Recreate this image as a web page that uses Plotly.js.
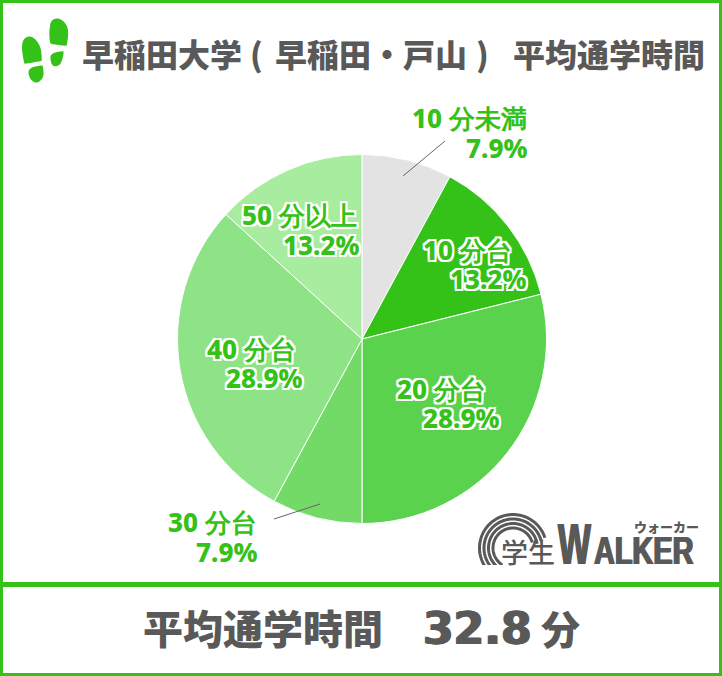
<!DOCTYPE html>
<html>
<head>
<meta charset="utf-8">
<script src="https://cdn.plot.ly/plotly-3.0.1.min.js"></script>
<style>html,body{margin:0;padding:0;background:#fff}</style>
</head>
<body>
<div id="chart" style="width:722px;height:676px"></div>
<script>
var W = 722, H = 676;
var sliceLabels = ['10 分未満', '10 分台', '20 分台', '30 分台', '40 分台', '50 分以上'];
var sliceValues = [7.9, 13.2, 28.9, 7.9, 28.9, 13.2];
var sliceColors = ['#e3e3e3', '#34c118', '#5ad24e', '#73da68', '#8de385', '#a8eca0'];
// right edge and centre of each label line, in pixels
var nameX = [528, 513, 487, 258, 297, 358];
var nameY = [118, 250, 389, 522, 349, 215];
var pctX = [528, 528, 501, 258, 304, 361];
var pctY = [148, 279, 418, 552, 378, 245];
var labelOutlined = [false, true, true, false, true, true];

var GREEN = '#34c118', GREY = '#595959';
var CJK = '"Noto Sans CJK JP", sans-serif';
var LATIN = '"Noto Sans", sans-serif';

function px(x) { return x / W; }
function py(y) { return 1 - y / H; }

function textAt(text, x, y, size, opts) {
    opts = opts || {};
    return {
        text: text, x: px(x), y: py(y), xref: 'paper', yref: 'paper', showarrow: false,
        xanchor: opts.anchor || 'left', yanchor: 'middle', align: opts.anchor || 'left',
        borderpad: 0,
        font: {family: opts.family || CJK, size: size, color: opts.color || GREY,
            weight: opts.weight || 900, shadow: opts.shadow || 'none'}
    };
}

var outline = '2px 0 0 #fff,-2px 0 0 #fff,0 2px 0 #fff,0 -2px 0 #fff,2px 2px 0 #fff,-2px 2px 0 #fff,2px -2px 0 #fff,-2px -2px 0 #fff';
var fatten = '1px 0 0 ' + GREY + ',-1px 0 0 ' + GREY;

var annotations = [
    textAt('早稲田大学', 81, 53, 32),
    textAt('(', 249, 53, 32),
    textAt('早稲田', 274, 53, 32),
    textAt('・', 370, 53, 32),
    textAt('戸山', 402, 53, 32),
    textAt(')', 475, 53, 32),
    textAt('平均通学時間', 512, 53, 32),
    textAt('平均通学時間', 142, 627, 40),
    textAt('32.8', 422, 628, 44, {family: '"DejaVu Sans", sans-serif', weight: 'bold', shadow: fatten}),
    textAt('分', 540, 627, 39),
    textAt('学生', 500, 551, 27, {weight: 500}),
    textAt('W', 557, 543, 58, {family: '"Liberation Sans", sans-serif', weight: 'bold', shadow: fatten}),
    textAt('ALKER', 593, 551, 38, {family: '"Liberation Sans", sans-serif', weight: 'bold', shadow: fatten}),
    textAt('ウォーカー', 633, 526, 13)
];

sliceLabels.forEach(function (label, i) {
    var shadow = labelOutlined[i] ? outline : 'none';
    annotations.push(textAt(label, nameX[i], nameY[i], 26, {anchor: 'right', family: LATIN, color: GREEN, weight: 800, shadow: shadow}));
    annotations.push(textAt(sliceValues[i].toFixed(1) + '%', pctX[i], pctY[i], 26, {anchor: 'right', family: LATIN, color: GREEN, weight: 800, shadow: shadow}));
});

function rect(x0, y0, x1, y1, fill) {
    return {type: 'rect', xref: 'paper', yref: 'paper', x0: px(x0), y0: py(y0), x1: px(x1), y1: py(y1),
        fillcolor: fill, line: {width: 0}, layer: 'above'};
}
function leader(x0, y0, x1, y1) {
    return {type: 'line', xref: 'paper', yref: 'paper', x0: px(x0), y0: py(y0), x1: px(x1), y1: py(y1),
        line: {color: '#666666', width: 1}, layer: 'above'};
}
function blob(points, color) {
    // closed smooth shape, the points are curve controls in pixels
    var n = points.length;
    function mid(a, b) { return px((a[0] + b[0]) / 2) + ',' + py((a[1] + b[1]) / 2); }
    var d = 'M' + mid(points[n - 1], points[0]);
    points.forEach(function (p, i) {
        d += ' Q' + px(p[0]) + ',' + py(p[1]) + ' ' + mid(p, points[(i + 1) % n]);
    });
    return {type: 'path', xref: 'paper', yref: 'paper', path: d + ' Z', fillcolor: color, line: {width: 0}, layer: 'above'};
}
function arc(cx, cy, r, from, to, width) {
    var pts = [];
    for (var a = from; a <= to; a += 3) {
        var t = a * Math.PI / 180;
        pts.push([cx + r * Math.cos(t), cy - r * Math.sin(t)]);
    }
    var d = pts.map(function (p, i) {
        return (i ? 'L' : 'M') + px(p[0]) + ',' + py(p[1]);
    }).join(' ');
    return {type: 'path', xref: 'paper', yref: 'paper', path: d, line: {color: GREY, width: width}, layer: 'above'};
}

var shapes = [
    // logo arcs, the cover rect cuts them off at the baseline
    arc(513, 548, 33.5, 18, 240, 3), arc(513, 548, 29, 14, 240, 3),
    arc(513, 548, 24.5, 10, 240, 3), arc(513, 548, 20, 16, 240, 3),
    rect(470, 565, 560, 582, '#ffffff'),
    rect(0, 0, W, 3, GREEN), rect(0, 673, W, H, GREEN),
    rect(0, 0, 3, H, GREEN), rect(719, 0, W, H, GREEN),
    rect(0, 582, W, 587, GREEN),
    leader(445, 141, 403, 176),
    leader(274, 519, 320, 504),
    // footprints
    blob([[21, 44], [26, 36], [34, 37], [41, 47], [42, 61], [41, 61], [25, 64], [24, 63]], GREEN),
    blob([[28, 68], [42, 65], [43, 66], [44, 78], [36, 84], [29, 78]], GREEN),
    blob([[49, 32], [51, 19], [61, 18], [69, 28], [67, 45], [66, 46], [51, 44], [50, 43]], GREEN),
    blob([[51, 53], [63, 51], [64, 52], [61, 65], [53, 67], [50, 60]], GREEN)
];

var data = [{
    type: 'pie',
    labels: sliceLabels,
    values: sliceValues,
    sort: false,
    direction: 'clockwise',
    rotation: 0,
    textinfo: 'none',
    hoverinfo: 'skip',
    marker: {colors: sliceColors, line: {color: '#ffffff', width: 1}},
    domain: {x: [177.5 / W, 546.5 / W], y: [1 - 523.5 / H, 1 - 154.5 / H]}
}];

var layout = {
    width: W,
    height: H,
    margin: {l: 0, r: 0, t: 0, b: 0},
    paper_bgcolor: '#ffffff',
    showlegend: false,
    annotations: annotations,
    shapes: shapes
};

Plotly.newPlot('chart', data, layout, {displayModeBar: false}).then(function () {
    // logo lettering is condensed, plotly has no option for that
    var squeeze = {'W': 0.6, 'ALKER': 0.76};
    document.querySelectorAll('#chart .annotation-text').forEach(function (t) {
        var s = squeeze[t.textContent];
        if (s) {
            t.style.transformBox = 'fill-box';
            t.style.transformOrigin = 'left center';
            t.style.transform = 'scaleX(' + s + ')';
        }
    });
});
</script>
</body>
</html>
